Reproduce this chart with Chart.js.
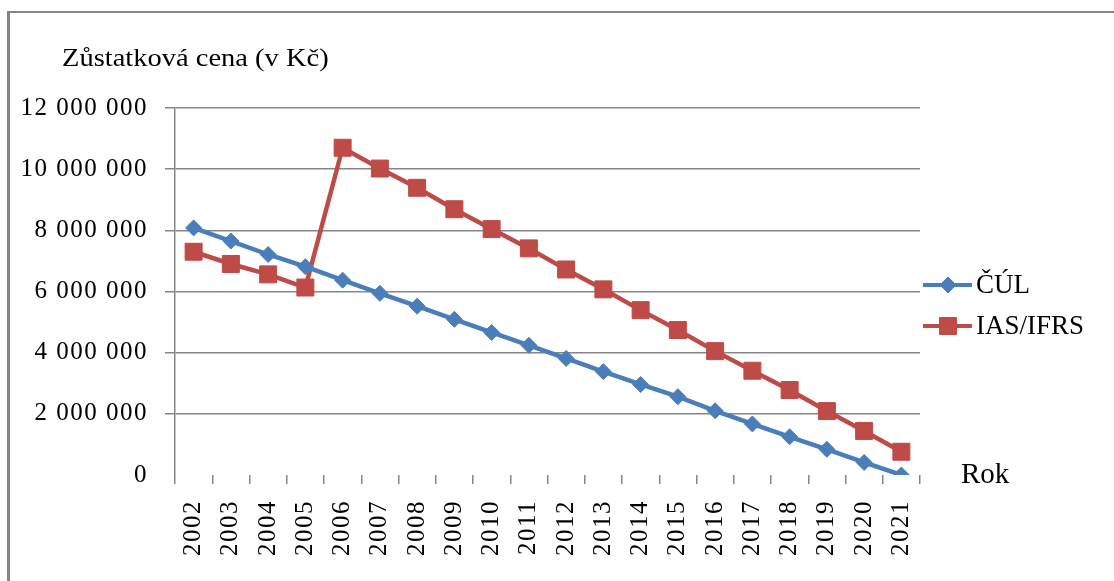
<!DOCTYPE html>
<html>
<head>
<meta charset="utf-8">
<script src="https://cdn.jsdelivr.net/npm/chart.js@4.4.1/dist/chart.umd.min.js"></script>
<style>
html,body{margin:0;padding:0;background:#fff;}
#wrap{position:relative;width:1114px;height:581px;overflow:hidden;background:#fff;}
#frame{position:absolute;left:7px;top:11px;width:1120px;height:600px;border-left:3px solid #868686;border-top:2px solid #868686;}
canvas{position:absolute;left:0;top:0;}
.txt{position:absolute;font-family:"Liberation Serif","Times New Roman",serif;color:#000;white-space:nowrap;transform-origin:left center;line-height:1;}
</style>
</head>
<body>
<div id="wrap">
  <div id="frame"></div>
  <canvas id="c" width="1114" height="581"></canvas>
  <div class="txt" style="left:62px;top:45px;font-size:25px;transform:scaleX(1.14)">Zůstatková cena (v Kč)</div>
  <div class="txt" style="left:961px;top:459px;font-size:29px">Rok</div>
</div>
<script>
// ---- data ----
const years = ['2002','2003','2004','2005','2006','2007','2008','2009','2010','2011','2012','2013','2014','2015','2016','2017','2018','2019','2020','2021'];
const culValues = [8080000,7650000,7210000,6810000,6370000,5940000,5520000,5090000,4660000,4240000,3810000,3380000,2960000,2560000,2100000,1670000,1250000,840000,410000,0];
const ifrsValues = [7300000,6900000,6560000,6130000,10700000,10020000,9390000,8690000,8040000,7410000,6720000,6070000,5390000,4740000,4050000,3410000,2780000,2090000,1440000,760000];
const yTickValues = [0,2000000,4000000,6000000,8000000,10000000,12000000];
const seriesNames = ['ČÚL','IAS/IFRS'];

const BLUE = '#4a7ebb';
const RED = '#be4b48';
const GRID = '#868686';
const FONT = 'Liberation Serif';

function fmt(v){ return String(v).replace(/\B(?=(\d{3})+(?!\d))/g,' '); }

const spacingPlugin = {
  id:'spacing',
  beforeDraw(chart){ chart.ctx.letterSpacing = '1.5px'; },
  beforeDatasetsDraw(chart){ chart.ctx.letterSpacing = '0px'; }
};

const legendPlugin = {
  id:'customLegend',
  afterDraw(chart){
    const ctx = chart.ctx;
    const rows = [285, 326];
    const radii = [8, 12];
    chart.data.datasets.forEach((ds,i)=>{
      const y = rows[i];
      ctx.save();
      ctx.strokeStyle = ds.borderColor;
      ctx.lineWidth = 4;
      ctx.beginPath(); ctx.moveTo(923,y); ctx.lineTo(972,y); ctx.stroke();
      ctx.fillStyle = ds.backgroundColor;
      ctx.strokeStyle = ds.borderColor;
      ctx.lineWidth = 1;
      Chart.helpers.drawPoint(ctx,{pointStyle:ds.pointStyle,radius:radii[i],rotation:0,borderWidth:1},948,y);
      ctx.fillStyle = '#000';
      ctx.font = '27px "' + FONT + '"';
      ctx.textBaseline = 'middle';
      ctx.textAlign = 'left';
      ctx.fillText(ds.label, 976, y+1);
      ctx.restore();
    });
  }
};

new Chart(document.getElementById('c'), {
  type:'line',
  data:{
    labels: years,
    datasets:[
      {label:seriesNames[0], data:culValues, borderColor:BLUE, backgroundColor:BLUE, borderWidth:4.5,
       pointStyle:'rectRot', pointRadius:8, pointBorderWidth:1, tension:0},
      {label:seriesNames[1], data:ifrsValues, borderColor:RED, backgroundColor:RED, borderWidth:4.5,
       pointStyle:'rect', pointRadius:12, pointBorderWidth:1, tension:0}
    ]
  },
  options:{
    responsive:false,
    animation:false,
    devicePixelRatio:1,
    layout:{padding:{top:108,right:194,left:0,bottom:0}},
    plugins:{legend:{display:false}, tooltip:{enabled:false}},
    scales:{
      x:{
        offset:true,
        grid:{offset:true, drawOnChartArea:false, drawTicks:true, tickLength:9, color:GRID, lineWidth:1.5},
        border:{display:false},
        ticks:{minRotation:90, maxRotation:90, autoSkip:false, padding:16, color:'#000', font:{family:FONT, size:25}},
        afterFit(s){ s.height = 106; }
      },
      y:{
        min:0, max:12000000,
        afterBuildTicks(s){ s.ticks = yTickValues.map(v=>({value:v})); },
        grid:{color:c=>(c.tick && c.tick.value===0)?'rgba(0,0,0,0)':GRID, lineWidth:1.5, tickLength:10},
        border:{display:true, color:GRID, width:1.5},
        ticks:{padding:17, color:'#000', font:{family:FONT, size:25}, callback:v=>fmt(v)},
        afterFit(s){ s.width = 175; }
      }
    }
  },
  plugins:[spacingPlugin, legendPlugin]
});
</script>
</body>
</html>
